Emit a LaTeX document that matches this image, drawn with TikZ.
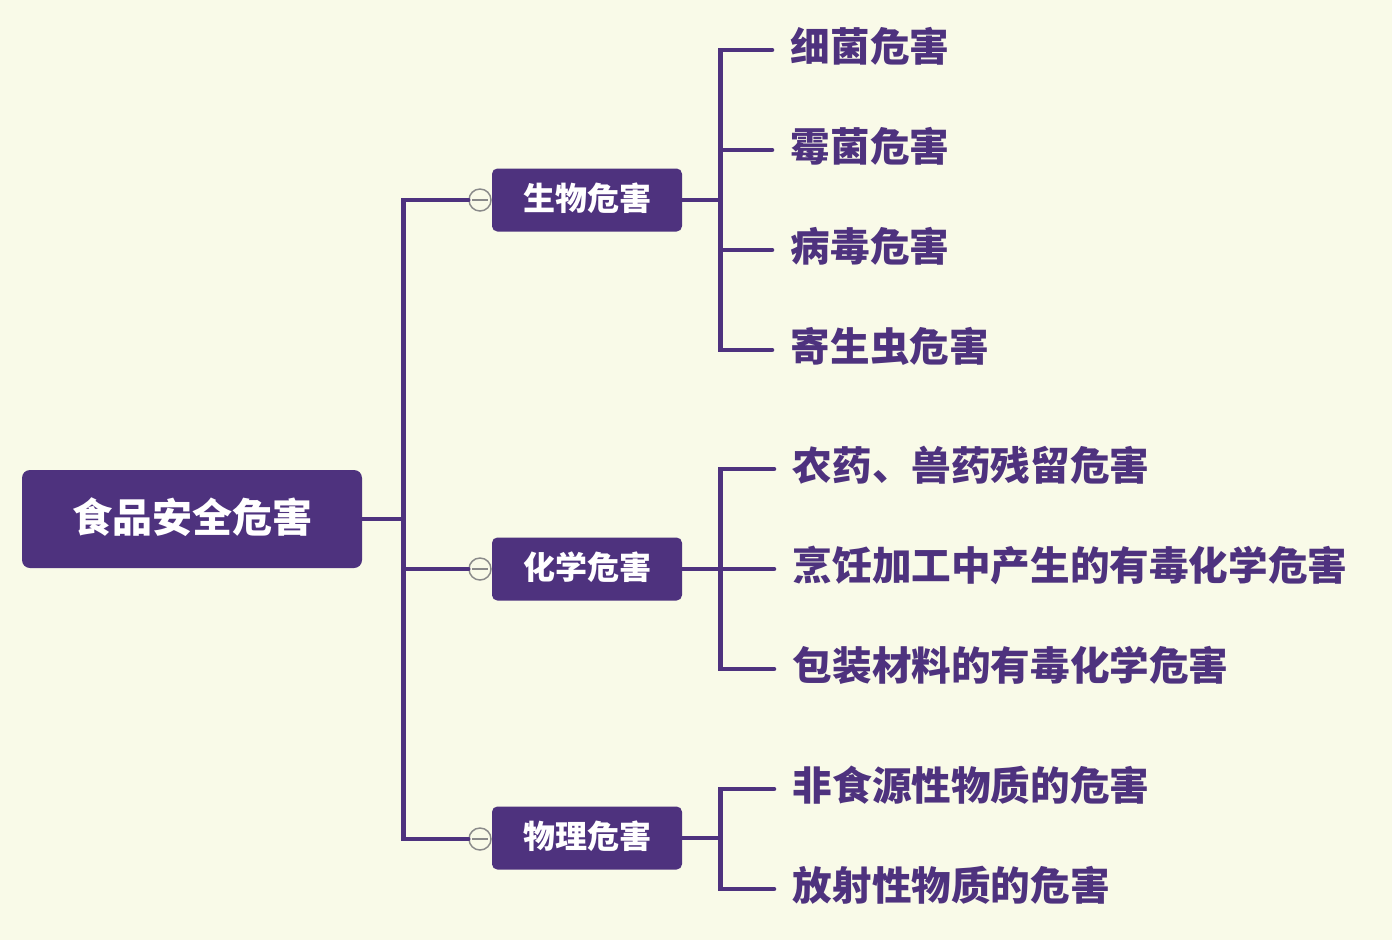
\documentclass[tikz,border=0pt]{standalone}
\usepackage{fontspec}
\setmainfont{Noto Sans CJK SC}
\usetikzlibrary{positioning}
\definecolor{fhpurple}{RGB}{78,50,126}
\definecolor{fhcream}{RGB}{249,250,232}
\definecolor{fhgray}{RGB}{138,138,138}
\tikzset{
  fhline/.style={draw=fhpurple, line width=3.4pt, line cap=round},
  fhroot/.style={rectangle, rounded corners=6pt, fill=fhpurple, text=white, text height=20pt, text depth=0pt,
    font=\fontsize{30}{30}\selectfont\bfseries, minimum width=255pt, minimum height=73.5pt},
  fhtopic/.style={rectangle, rounded corners=4pt, fill=fhpurple, text=white, text height=15.5pt, text depth=0pt,
    font=\fontsize{24}{24}\selectfont\bfseries, minimum width=142.5pt, minimum height=47.25pt},
  fhleafnode/.style={anchor=west, text=fhpurple, inner xsep=14pt, inner ysep=0pt, text height=17pt, text depth=0pt,
    font=\fontsize{29.7}{29.7}\selectfont\bfseries},
  fhfold/.style={circle, draw=fhgray, line width=1.1pt, fill=fhcream, minimum size=16.5pt, inner sep=0pt,
    path picture={\draw [fhgray, line width=1.1pt] ([xshift=2.5pt]path picture bounding box.west) -- ([xshift=-2.5pt]path picture bounding box.east);}}
}
\newcommand{\fhtopicnode}[3] {\node at (#1) (#2) [fhtopic] {#3};}
\newcommand{\fhleaf}[3] {\node at (#1) (#2) [fhleafnode] {#3};}
\newcommand{\fhlink}[3] {\draw [fhline] (#1.east) -- ++(#3,0) |- (#2.west);}
\begin{document}
\begin{tikzpicture}[x=0.75pt, y=-0.75pt]
\useasboundingbox [fill=fhcream] (0,0) rectangle (1392,940);

\node at (192,519) (root) [fhroot] {食品安全危害};

\node at (480,200) (cbio) [fhfold] {};
\node at (480,569) (cchem) [fhfold] {};
\node at (480,839) (cphys) [fhfold] {};

\fhlink {root}{cbio}{41};
\fhlink {root}{cchem}{41};
\fhlink {root}{cphys}{41};

\fhtopicnode {587,200} {bio} {生物危害};
\fhtopicnode {587,569} {chem} {化学危害};
\fhtopicnode {587,838} {phys} {物理危害};

\fhleaf {772,50} {bac} {细菌危害};
\fhleaf {772,150} {mold} {霉菌危害};
\fhleaf {772,250} {virus} {病毒危害};
\fhleaf {772,350} {para} {寄生虫危害};

\fhleaf {774,469} {pest} {农药、兽药残留危害};
\fhleaf {774,569} {cook} {烹饪加工中产生的有毒化学危害};
\fhleaf {774,669} {pack} {包装材料的有毒化学危害};

\fhleaf {774,789} {nonfood} {非食源性物质的危害};
\fhleaf {774,889} {radio} {放射性物质的危害};

\fhlink {bio}{bac}{38};
\fhlink {bio}{mold}{38};
\fhlink {bio}{virus}{38};
\fhlink {bio}{para}{38};

\fhlink {chem}{pest}{38};
\fhlink {chem}{cook}{38};
\fhlink {chem}{pack}{38};

\fhlink {phys}{nonfood}{38};
\fhlink {phys}{radio}{38};

%\node at (192,600) {};
\end{tikzpicture}
\end{document}
